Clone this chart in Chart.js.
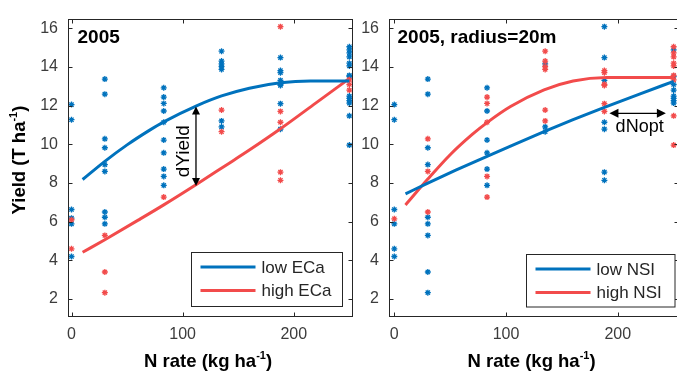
<!DOCTYPE html>
<html>
<head>
<meta charset="utf-8">
<script src="https://cdn.jsdelivr.net/npm/chart.js@4.4.0/dist/chart.umd.min.js"></script>
<style>
html, body { margin: 0; padding: 0; background: #fff; overflow: hidden; width: 677px; height: 375px; }
#leftChart { position: absolute; left: 0; top: 0; }
#rightChart { position: absolute; left: 358px; top: 0; }
</style>
</head>
<body>
<canvas id="leftChart" width="358" height="375"></canvas>
<canvas id="rightChart" width="326" height="375"></canvas>
<script>
// N rates where yields were measured, and axis ticks
const nRates = [0, 30, 83, 135, 188, 250];
const xTicks = [0, 100, 200];
const yTicks = [2, 4, 6, 8, 10, 12, 14, 16];

// left panel: yields per N rate, split by ECa
const lowEcaYields = [
    [12.05, 11.27, 6.63, 6.18, 5.89, 4.2],
    [13.37, 12.59, 10.28, 9.82, 8.95, 8.6, 6.5, 6.23, 5.89],
    [12.92, 12.44, 12.11, 11.72, 11.14, 10.22, 9.56, 8.72, 8.34, 7.88],
    [14.81, 14.3, 14.16, 14.02, 13.87, 11.21, 10.9],
    [14.48, 13.81, 13.7, 13.3, 13.1, 13.04, 12.1, 10.78],
    [15.04, 14.88, 14.72, 14.52, 14.19, 14.05, 13.56, 13.5, 12.49, 12.37, 12.26, 12.13, 11.47, 9.96]
];
const highEcaYields = [
    [6.1, 4.6],
    [5.29, 3.4, 2.33],
    [7.27],
    [11.77, 10.65],
    [16.08, 11.7, 11.14, 8.56, 8.14],
    [13.33, 13.09, 12.8]
];

// right panel: same plots, split by NSI
const lowNsiYields = [
    [12.05, 11.27, 6.63, 5.89, 4.6, 4.2],
    [13.37, 12.59, 9.82, 8.95, 6.23, 5.89, 5.29, 3.4, 2.33],
    [12.92, 11.72, 10.22, 9.56, 8.72, 7.88],
    [14.16, 10.9, 10.65],
    [16.08, 14.48, 13.3, 11.14, 10.78, 8.56, 8.14],
    [14.88, 13.5, 13.09, 12.8, 12.49, 12.37, 12.26, 12.13]
];
const highNsiYields = [
    [6.15],
    [10.28, 8.6, 6.5],
    [12.44, 12.11, 11.14, 8.34, 7.27],
    [14.81, 14.3, 14.02, 13.87, 11.77, 11.21],
    [13.81, 13.7, 13.1, 13.04, 12.1, 11.7],
    [15.04, 14.72, 14.52, 14.19, 14.05, 13.56, 13.33, 11.47, 9.96]
];

// fitted response curves
const lowEcaCurveN = [10, 30, 50, 70, 83, 113, 135, 160, 188, 215, 250];
const lowEcaCurveY = [8.18, 9.12, 9.97, 10.72, 11.16, 12.0, 12.5, 12.9, 13.18, 13.27, 13.27];
const highEcaCurveN = [10, 30, 60, 83, 113, 138, 160, 188, 220, 250];
const highEcaCurveY = [4.42, 5.07, 6.08, 6.87, 7.95, 8.88, 9.7, 10.8, 12.14, 13.4];
const lowNsiCurveN = [10, 30, 55, 83, 104, 134, 160, 188, 220, 250];
const lowNsiCurveY = [7.44, 7.99, 8.66, 9.38, 9.91, 10.65, 11.27, 11.91, 12.61, 13.25];
const highNsiCurveN = [10, 30, 50, 70, 83, 104, 134, 160, 190, 250];
const highNsiCurveY = [6.86, 8.2, 9.46, 10.52, 11.12, 11.95, 12.81, 13.27, 13.45, 13.45];

// annotation arrows
const dYieldN = 112, dYieldTop = 11.95, dYieldBottom = 7.85;
const dNoptFrom = 192.5, dNoptTo = 243, dNoptYield = 11.6;

const blue = '#0072BD';
const red = '#F24B4B';
const ink = '#262626';
const fontFamily = '"Liberation Sans", Arial, sans-serif';

function toPoints(yields) {
    return nRates.flatMap((n, i) => yields[i].map(v => ({ x: n, y: v })));
}

function toCurve(ns, ys) {
    return ns.map((n, i) => ({ x: n, y: ys[i] }));
}

function drawHead(ctx, x, y, dx, dy, len, half) {
    const bx = x - dx * len, by = y - dy * len;
    ctx.beginPath();
    ctx.moveTo(x, y);
    ctx.lineTo(bx - dy * half, by + dx * half);
    ctx.lineTo(bx + dy * half, by - dx * half);
    ctx.closePath();
    ctx.fill();
}

function drawSupLabel(ctx, cx, cy, label, size, rotate) {
    const mainFont = `bold ${size}px ${fontFamily}`;
    const supFont = `bold ${Math.round(size * 0.62)}px ${fontFamily}`;
    ctx.font = mainFont;
    const w1 = ctx.measureText(label[0]).width;
    const w3 = ctx.measureText(label[2]).width;
    ctx.font = supFont;
    const w2 = ctx.measureText(label[1]).width;
    ctx.save();
    ctx.translate(cx, cy);
    if (rotate) ctx.rotate(-Math.PI / 2);
    ctx.textAlign = 'left';
    ctx.textBaseline = 'alphabetic';
    ctx.fillStyle = '#000';
    let x = -(w1 + w2 + w3) / 2;
    const base = size * 0.36;
    ctx.font = mainFont; ctx.fillText(label[0], x, base); x += w1;
    ctx.font = supFont; ctx.fillText(label[1], x, base - size * 0.42); x += w2;
    ctx.font = mainFont; ctx.fillText(label[2], x, base);
    ctx.restore();
}

const panelDecor = {
    id: 'panelDecor',
    afterDraw(chart, args, opts) {
        const { ctx, chartArea: a, scales: { x, y } } = chart;
        ctx.save();

        // arrow annotation
        const ar = opts.arrow;
        ctx.strokeStyle = '#000';
        ctx.fillStyle = '#000';
        ctx.lineWidth = 1.3;
        if (ar.kind === 'v') {
            const px = x.getPixelForValue(ar.at);
            const p1 = y.getPixelForValue(ar.from), p2 = y.getPixelForValue(ar.to);
            ctx.beginPath(); ctx.moveTo(px, p1 + 7); ctx.lineTo(px, p2 - 7); ctx.stroke();
            drawHead(ctx, px, p1, 0, -1, 8, 4);
            drawHead(ctx, px, p2, 0, 1, 8, 4);
            ctx.save();
            ctx.translate(px + ar.textDx, (p1 + p2) / 2 + ar.textDy);
            ctx.rotate(-Math.PI / 2);
            ctx.font = `19px ${fontFamily}`;
            ctx.textAlign = 'center'; ctx.textBaseline = 'middle';
            ctx.fillText(ar.text, 0, 0);
            ctx.restore();
        } else {
            const py = y.getPixelForValue(ar.at);
            const p1 = x.getPixelForValue(ar.from), p2 = x.getPixelForValue(ar.to);
            ctx.beginPath(); ctx.moveTo(p1 + 7, py); ctx.lineTo(p2 - 7, py); ctx.stroke();
            drawHead(ctx, p1, py, -1, 0, 9, 4.5);
            drawHead(ctx, p2, py, 1, 0, 9, 4.5);
            ctx.font = `18px ${fontFamily}`;
            ctx.textAlign = 'center'; ctx.textBaseline = 'alphabetic';
            ctx.fillText(ar.text, (p1 + p2) / 2 + ar.textDx, py + ar.textDy);
        }

        // frame and inward ticks
        const L = Math.round(a.left) + 0.5, R = Math.round(a.right) - 0.5;
        const T = Math.round(a.top) + 0.5, B = Math.round(a.bottom) - 0.5;
        ctx.strokeStyle = ink;
        ctx.lineWidth = 1;
        ctx.beginPath();
        xTicks.forEach(v => {
            const px = Math.round(x.getPixelForValue(v)) + 0.5;
            ctx.moveTo(px, B); ctx.lineTo(px, B - 4);
            ctx.moveTo(px, T); ctx.lineTo(px, T + 4);
        });
        yTicks.forEach(v => {
            const py = Math.round(y.getPixelForValue(v)) + 0.5;
            ctx.moveTo(L, py); ctx.lineTo(L + 4, py);
            ctx.moveTo(R, py); ctx.lineTo(R - 4, py);
        });
        ctx.stroke();
        ctx.strokeRect(L, T, R - L, B - T);

        // legend box
        const lg = opts.legend;
        const bx = Math.round(a.right - lg.right - lg.width) + 0.5;
        const by = Math.round(a.bottom - lg.bottom - lg.height) + 0.5;
        ctx.fillStyle = '#fff';
        ctx.fillRect(bx, by, lg.width, lg.height);
        ctx.strokeStyle = ink;
        ctx.strokeRect(bx, by, lg.width, lg.height);
        ctx.font = `17px ${fontFamily}`;
        ctx.textAlign = 'left'; ctx.textBaseline = 'middle';
        lg.items.forEach((it, i) => {
            const ry = by + 14.5 + i * 23.5;
            ctx.strokeStyle = it.color;
            ctx.lineWidth = 3;
            ctx.beginPath(); ctx.moveTo(bx + 9, ry); ctx.lineTo(bx + 64, ry); ctx.stroke();
            ctx.fillStyle = ink;
            ctx.fillText(it.text, bx + 70, ry + 1);
        });

        // panel title
        ctx.fillStyle = '#000';
        ctx.font = `bold 19px ${fontFamily}`;
        ctx.textAlign = 'left'; ctx.textBaseline = 'alphabetic';
        ctx.fillText(opts.title, a.left + opts.titleDx, a.top + 24);

        // axis titles
        drawSupLabel(ctx, (a.left + a.right) / 2 - 2, 360, ['N rate (kg ha', '-1', ')'], 18.5, false);
        if (opts.yTitle) {
            drawSupLabel(ctx, 18, 160, ['Yield (T ha', '-1', ')'], 18.5, true);
        }
        ctx.restore();
    }
};

function buildPanel(canvasId, cfg) {
    return new Chart(document.getElementById(canvasId), {
        type: 'scatter',
        data: {
            datasets: [
                { data: toCurve(cfg.lowCurveN, cfg.lowCurveY), showLine: true, borderColor: blue, borderWidth: 3,
                  pointRadius: 0, cubicInterpolationMode: 'monotone', fill: false, order: 0 },
                { data: toCurve(cfg.highCurveN, cfg.highCurveY), showLine: true, borderColor: red, borderWidth: 3,
                  pointRadius: 0, cubicInterpolationMode: 'monotone', fill: false, order: 0 },
                { data: toPoints(cfg.highYields), pointStyle: 'star', pointRadius: 3, pointBorderWidth: 1.3,
                  pointBorderColor: red, pointBackgroundColor: red, order: 1 },
                { data: toPoints(cfg.lowYields), pointStyle: 'star', pointRadius: 3, pointBorderWidth: 1.3,
                  pointBorderColor: blue, pointBackgroundColor: blue, order: 2 }
            ]
        },
        options: {
            responsive: false,
            animation: false,
            events: [],
            layout: { padding: cfg.padding },
            plugins: {
                legend: { display: false },
                tooltip: { enabled: false },
                panelDecor: cfg.decor
            },
            scales: {
                x: {
                    type: 'linear', min: cfg.xMin, max: cfg.xMax,
                    afterFit: s => { s.height = 58.5; },
                    afterBuildTicks: s => { s.ticks = xTicks.map(v => ({ value: v })); },
                    grid: { display: false, drawTicks: false },
                    border: { display: false },
                    ticks: { font: { family: fontFamily, size: 16 }, color: '#3c3c3c', padding: 8, maxRotation: 0 }
                },
                y: {
                    type: 'linear', min: 1.1, max: 16.47,
                    afterFit: s => { s.width = cfg.yWidth; },
                    afterBuildTicks: s => { s.ticks = yTicks.map(v => ({ value: v })); },
                    grid: { display: false, drawTicks: false },
                    border: { display: false },
                    ticks: { font: { family: fontFamily, size: 16 }, color: '#3c3c3c', padding: 9.5 }
                }
            }
        },
        plugins: [panelDecor]
    });
}

buildPanel('leftChart', {
    lowYields: lowEcaYields, highYields: highEcaYields,
    lowCurveN: lowEcaCurveN, lowCurveY: lowEcaCurveY,
    highCurveN: highEcaCurveN, highCurveY: highEcaCurveY,
    xMin: -3.6, xMax: 253, yWidth: 67.5,
    padding: { top: 5.5, right: 2.5, left: 0, bottom: 0 },
    decor: {
        title: '2005', titleDx: 10, yTitle: true,
        arrow: { kind: 'v', at: dYieldN, from: dYieldTop, to: dYieldBottom, text: 'dYield', textDx: -12, textDy: 5 },
        legend: { right: 10.5, bottom: 10.5, width: 151, height: 54,
                  items: [{ text: 'low ECa', color: blue }, { text: 'high ECa', color: red }] }
    }
});

buildPanel('rightChart', {
    lowYields: lowNsiYields, highYields: highNsiYields,
    lowCurveN: lowNsiCurveN, lowCurveY: lowNsiCurveY,
    highCurveN: highNsiCurveN, highCurveY: highNsiCurveY,
    xMin: -5.2, xMax: 254.5, yWidth: 30.5,
    padding: { top: 5.5, right: 4.5, left: 0, bottom: 0 },
    decor: {
        title: '2005, radius=20m', titleDx: 9, yTitle: false,
        arrow: { kind: 'h', at: dNoptYield, from: dNoptFrom, to: dNoptTo, text: 'dNopt', textDx: 2, textDy: 19 },
        legend: { right: 3.8, bottom: 10, width: 148.5, height: 52.5,
                  items: [{ text: 'low NSI', color: blue }, { text: 'high NSI', color: red }] }
    }
});
</script>
</body>
</html>
